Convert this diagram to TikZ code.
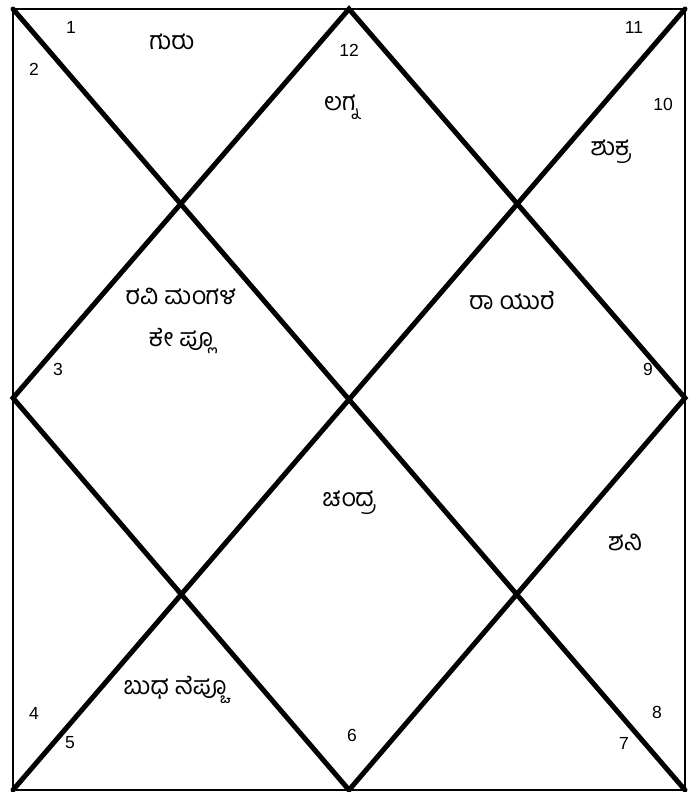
\documentclass[tikz,border=0pt]{standalone}
\usepackage{fontspec}
\setmainfont{Liberation Sans}
\newfontfamily\kan[Script=Kannada]{Hind Mysuru}
\begin{document}
\begin{tikzpicture}[x=1pt,y=-1pt,
  frame/.style={line width=2.5pt},
  thick line/.style={line width=5pt,line cap=round},
  num/.style={font=\fontsize{17.5}{20}\selectfont,inner sep=0pt},
  planet/.style={font=\fontsize{25}{42}\selectfont\kan,inner sep=0pt,align=center}]
\useasboundingbox (0,0) rectangle (697,792);
\coordinate (tl) at (13,9);
\coordinate (tr) at (685,9);
\coordinate (br) at (685,790);
\coordinate (bl) at (13,790);
\coordinate (tm) at (349,9);
\coordinate (rm) at (685,398);
\coordinate (bm) at (349,790);
\coordinate (lm) at (13,398);
\draw[frame] (tl) rectangle (br);
\draw[thick line] (tl) -- (br);
\draw[thick line] (tr) -- (bl);
\draw[thick line] (tm) -- (rm) -- (bm) -- (lm) -- cycle;
% house numbers
\node[num] (n1) at (71,27) {1};
\node[num] (n2) at (34,69) {2};
\node[num] (n12) at (349,50) {12};
\node[num] (n11) at (634,27) {11};
\node[num] (n10) at (663,104) {10};
\node[num] (n3) at (58,369) {3};
\node[num] (n9) at (648,369) {9};
\node[num] (n4) at (34,713) {4};
\node[num] (n5) at (70,743) {5};
\node[num] (n6) at (352,735) {6};
\node[num] (n7) at (624,743) {7};
\node[num] (n8) at (657,712) {8};
% planets
\node[planet] (guru) at (172,42) {ಗುರು};
\node[planet] (lagna) at (341,107) {ಲಗ್ನ};
\node[planet] (shukra) at (611,152) {ಶುಕ್ರ};
\node[planet] (ravi) at (181,321) {ರವಿ ಮಂಗಳ\\ಕೇ ಪ್ಲೂ};
\node[planet] (rahu) at (512,300) {ರಾ ಯುರೆ};
\node[planet] (chandra) at (349,503) {ಚಂದ್ರ};
\node[planet] (shani) at (625,542) {ಶನಿ};
\node[planet] (budha) at (175,690) {ಬುಧ ನೆಪ್ಚೂ};
\end{tikzpicture}
\end{document}
